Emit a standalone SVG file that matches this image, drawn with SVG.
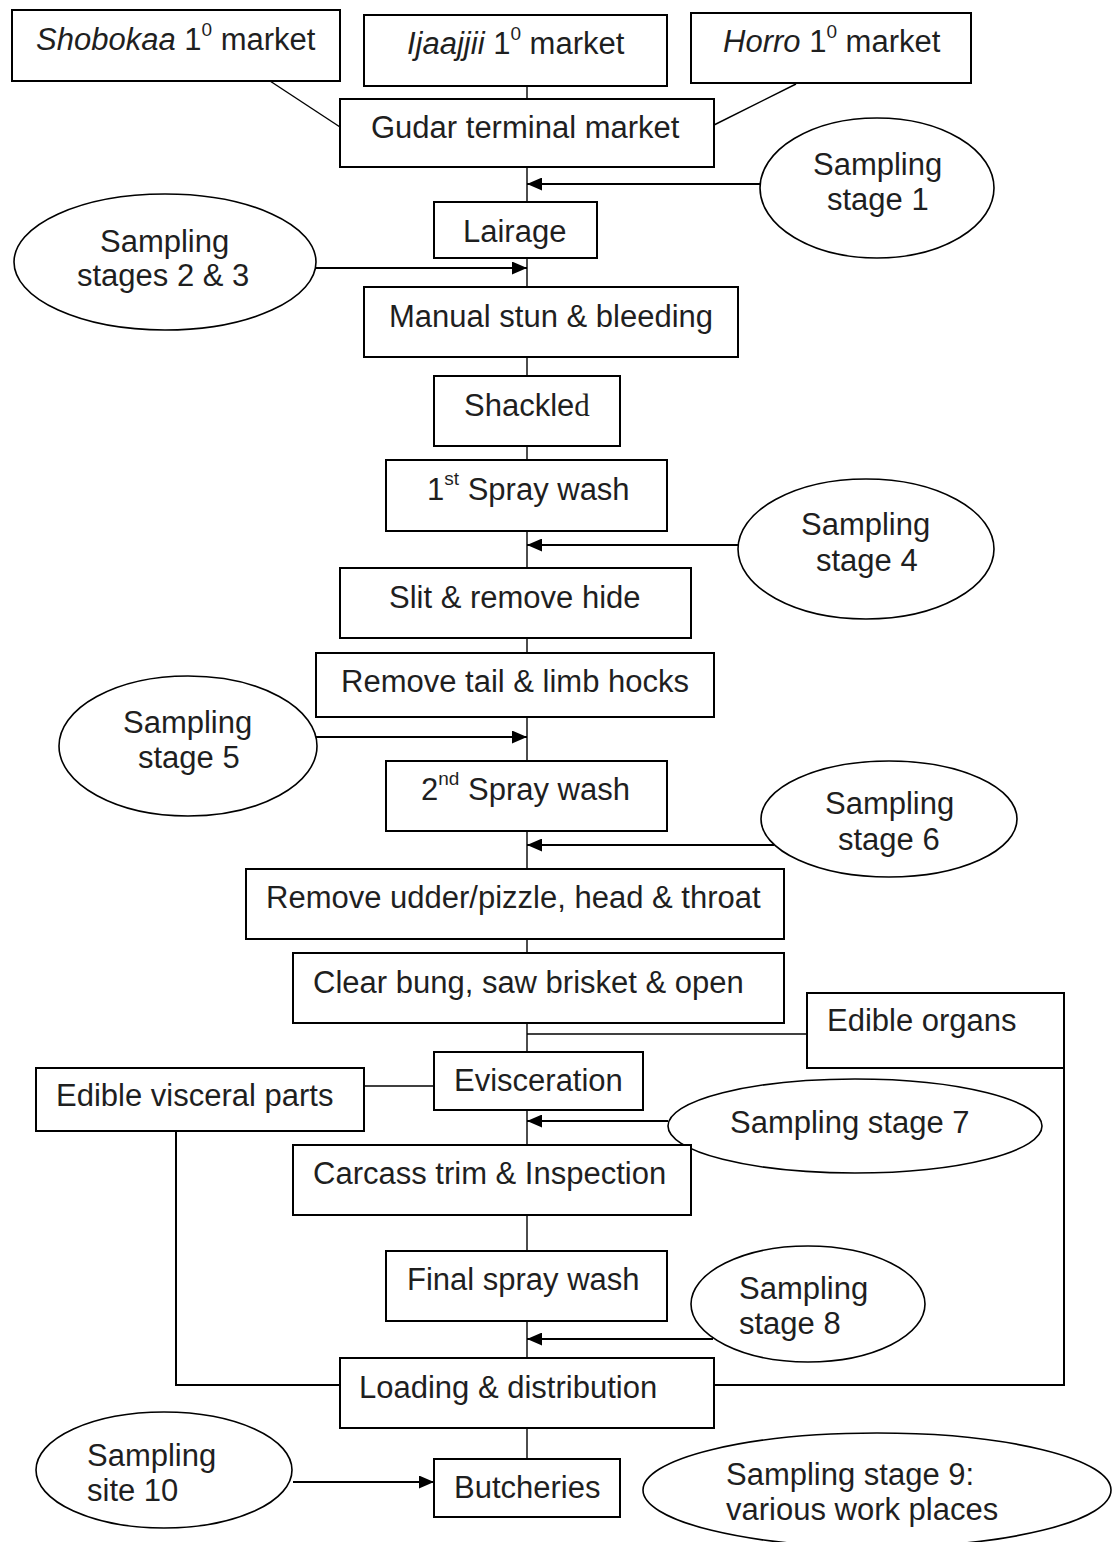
<svg xmlns="http://www.w3.org/2000/svg" width="1118" height="1542" viewBox="0 0 1118 1542">
<style>
 .box{fill:#fff;stroke:#000;stroke-width:2}
 .ell{fill:#fff;stroke:#000;stroke-width:1.6}
 .t{font-family:"Liberation Sans",Arial,sans-serif;font-size:31px;fill:#1f1f1f}
 .it{font-style:italic}
 .ser{font-family:"Liberation Serif","Times New Roman",serif}
 .sup{font-size:19px}
 .ln{stroke:#000;stroke-width:1.4;fill:none}
 .ar{stroke:#000;stroke-width:2;fill:none}
</style>
<defs>
 <marker id="ah" markerUnits="userSpaceOnUse" markerWidth="15" markerHeight="13" refX="15" refY="6.5" orient="auto">
  <path d="M0,0 L15,6.5 L0,13 z" fill="#000"/>
 </marker>
</defs>
<rect width="1118" height="1542" fill="#fff"/>

<g id="connectors">
 <line class="ln" x1="270" y1="81" x2="340" y2="127"/>
 <line class="ln" x1="527" y1="86" x2="527" y2="99"/>
 <line class="ln" x1="796" y1="84" x2="714" y2="125"/>
 <line class="ln" x1="527" y1="167" x2="527" y2="1459"/>
 <line class="ln" x1="527" y1="1034" x2="807" y2="1034"/>
 <line class="ln" x1="364" y1="1086" x2="434" y2="1086"/>
 <polyline class="ar" points="1064,1068 1064,1385 714,1385"/>
 <polyline class="ar" points="176,1131 176,1385 340,1385"/>
 <line class="ar" x1="761" y1="184" x2="527" y2="184" marker-end="url(#ah)"/>
 <line class="ar" x1="316" y1="268" x2="527" y2="268" marker-end="url(#ah)"/>
 <line class="ar" x1="738" y1="545" x2="527" y2="545" marker-end="url(#ah)"/>
 <line class="ar" x1="316" y1="737" x2="527" y2="737" marker-end="url(#ah)"/>
 <line class="ar" x1="774" y1="845" x2="527" y2="845" marker-end="url(#ah)"/>
 <line class="ar" x1="668" y1="1121" x2="527" y2="1121" marker-end="url(#ah)"/>
 <line class="ar" x1="713" y1="1339" x2="527" y2="1339" marker-end="url(#ah)"/>
 <line class="ar" x1="293" y1="1482" x2="434" y2="1482" marker-end="url(#ah)"/>
</g>

<g id="shobokaa"><rect class="box" x="12" y="10" width="328" height="71"/>
 <text class="t" x="36" y="50"><tspan class="it">Shobokaa</tspan> 1<tspan class="sup" dy="-14">0</tspan><tspan dy="14"> market</tspan></text></g>
<g id="ijaajjii"><rect class="box" x="364" y="15" width="303" height="71"/>
 <text class="t" x="407" y="54"><tspan class="it">Ijaajjii</tspan> 1<tspan class="sup" dy="-14">0</tspan><tspan dy="14"> market</tspan></text></g>
<g id="horro"><rect class="box" x="691" y="13" width="280" height="70"/>
 <text class="t" x="723" y="52"><tspan class="it">Horro</tspan> 1<tspan class="sup" dy="-14">0</tspan><tspan dy="14"> market</tspan></text></g>
<g id="gudar"><rect class="box" x="340" y="99" width="374" height="68"/>
 <text class="t" x="371" y="138">Gudar terminal market</text></g>
<g id="s1"><ellipse class="ell" cx="877" cy="188" rx="117" ry="70"/>
 <text class="t" x="813" y="175">Sampling</text><text class="t" x="827" y="210">stage 1</text></g>
<g id="lairage"><rect class="box" x="434" y="202" width="163" height="56"/>
 <text class="t" x="463" y="242">Lairage</text></g>
<g id="s23"><ellipse class="ell" cx="165" cy="262" rx="151" ry="68"/>
 <text class="t" x="100" y="252">Sampling</text><text class="t" x="77" y="286">stages 2 &amp; 3</text></g>
<g id="stun"><rect class="box" x="364" y="287" width="374" height="70"/>
 <text class="t" x="389" y="327">Manual stun &amp; bleeding</text></g>
<g id="shackled"><rect class="box" x="434" y="376" width="186" height="70"/>
 <text class="t" x="464" y="416">Shackle<tspan class="ser">d</tspan></text></g>
<g id="spray1"><rect class="box" x="386" y="460" width="281" height="71"/>
 <text class="t" x="427" y="500">1<tspan class="sup" dy="-15">st</tspan><tspan dy="15"> Spray wash</tspan></text></g>
<g id="s4"><ellipse class="ell" cx="866" cy="549" rx="128" ry="70"/>
 <text class="t" x="801" y="535">Sampling</text><text class="t" x="816" y="571">stage 4</text></g>
<g id="slit"><rect class="box" x="340" y="568" width="351" height="70"/>
 <text class="t" x="389" y="608">Slit &amp; remove hide</text></g>
<g id="tail"><rect class="box" x="316" y="653" width="398" height="64"/>
 <text class="t" x="341" y="692">Remove tail &amp; limb hocks</text></g>
<g id="s5"><ellipse class="ell" cx="188" cy="746" rx="129" ry="70"/>
 <text class="t" x="123" y="733">Sampling</text><text class="t" x="138" y="768">stage 5</text></g>
<g id="spray2"><rect class="box" x="386" y="761" width="281" height="70"/>
 <text class="t" x="421" y="800">2<tspan class="sup" dy="-15">nd</tspan><tspan dy="15"> Spray wash</tspan></text></g>
<g id="s6"><ellipse class="ell" cx="889" cy="819" rx="128" ry="58"/>
 <text class="t" x="825" y="814">Sampling</text><text class="t" x="838" y="850">stage 6</text></g>
<g id="udder"><rect class="box" x="246" y="869" width="538" height="70"/>
 <text class="t" x="266" y="908">Remove udder/pizzle, head &amp; throat</text></g>
<g id="bung"><rect class="box" x="293" y="953" width="491" height="70"/>
 <text class="t" x="313" y="993">Clear bung, saw brisket &amp; open</text></g>
<g id="organs"><rect class="box" x="807" y="993" width="257" height="75"/>
 <text class="t" x="827" y="1031">Edible organs</text></g>
<g id="evisc"><rect class="box" x="434" y="1052" width="209" height="58"/>
 <text class="t" x="454" y="1091">Evisceration</text></g>
<g id="visceral"><rect class="box" x="36" y="1068" width="328" height="63"/>
 <text class="t" x="56" y="1106">Edible visceral parts</text></g>
<g id="s7"><ellipse class="ell" cx="855" cy="1126" rx="187" ry="47"/>
 <text class="t" x="730" y="1133">Sampling stage 7</text></g>
<g id="carcass"><rect class="box" x="293" y="1145" width="398" height="70"/>
 <text class="t" x="313" y="1184">Carcass trim &amp; Inspection</text></g>
<g id="final"><rect class="box" x="386" y="1251" width="281" height="70"/>
 <text class="t" x="407" y="1290">Final spray wash</text></g>
<g id="s8"><ellipse class="ell" cx="808" cy="1304" rx="117" ry="58"/>
 <text class="t" x="739" y="1299">Sampling</text><text class="t" x="739" y="1334">stage 8</text></g>
<g id="loading"><rect class="box" x="340" y="1358" width="374" height="70"/>
 <text class="t" x="359" y="1398">Loading &amp; distribution</text></g>
<g id="butch"><rect class="box" x="434" y="1459" width="186" height="58"/>
 <text class="t" x="454" y="1498">Butcheries</text></g>
<g id="s10"><ellipse class="ell" cx="164" cy="1470" rx="128" ry="58"/>
 <text class="t" x="87" y="1466">Sampling</text><text class="t" x="87" y="1501">site 10</text></g>
<g id="s9"><ellipse class="ell" cx="877" cy="1490" rx="234" ry="57"/>
 <text class="t" x="726" y="1485">Sampling stage 9:</text><text class="t" x="726" y="1520">various work places</text></g>
</svg>
